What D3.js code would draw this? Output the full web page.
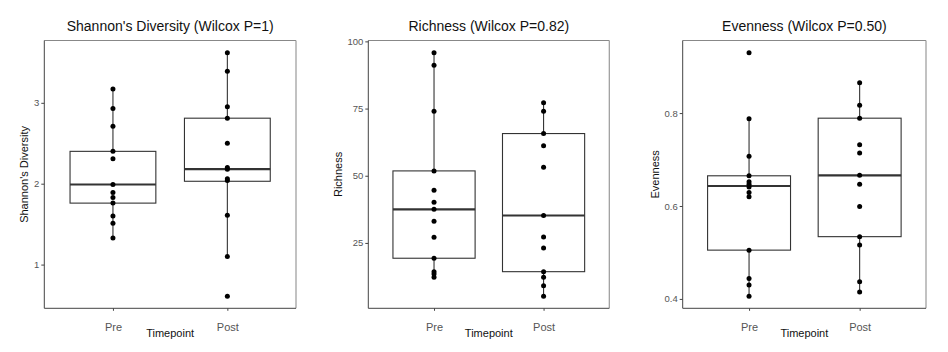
<!DOCTYPE html>
<html>
<head>
<meta charset="utf-8">
<script src="https://cdn.jsdelivr.net/npm/d3@7"></script>
<style>
  body { margin: 0; background: #fff; }
  text { font-family: "Liberation Sans", Arial, sans-serif; }
</style>
</head>
<body>
<div id="chart"></div>
<script>
// groups on the x axis
var groups = ["Pre", "Post"];

// Shannon's diversity values
var shannonPre = [3.17, 2.93, 2.71, 2.40, 2.31, 1.99, 1.89, 1.83, 1.76, 1.60, 1.51, 1.33];
var shannonPost = [3.62, 3.39, 2.95, 2.81, 2.50, 2.20, 2.18, 2.06, 2.04, 1.61, 1.10, 0.61];
// box stats: [lower whisker, q1, median, q3, upper whisker]
var shannonBox = [[1.33, 1.76, 1.99, 2.40, 3.17], [1.10, 2.03, 2.18, 2.81, 3.62]];

// richness
var richPre = [95.8, 91.1, 74.0, 51.8, 44.6, 40.1, 37.5, 33.1, 27.1, 19.3, 14.3, 13.4, 12.2];
var richPost = [77.2, 74.0, 65.7, 61.2, 53.2, 35.2, 27.2, 23.1, 14.3, 12.2, 9.1, 5.2];
var richBox = [[12.2, 19.3, 37.5, 51.8, 95.8], [5.2, 14.3, 35.2, 65.7, 77.2]];

// evenness
var evenPre = [0.930, 0.788, 0.707, 0.665, 0.652, 0.647, 0.641, 0.629, 0.620, 0.505, 0.444, 0.430, 0.406];
var evenPost = [0.865, 0.817, 0.789, 0.732, 0.714, 0.666, 0.647, 0.599, 0.534, 0.516, 0.437, 0.415];
var evenBox = [[0.406, 0.505, 0.643, 0.665, 0.788], [0.415, 0.534, 0.666, 0.789, 0.865]];

var shannonTicks = [1, 2, 3];
var richTicks = [25, 50, 75, 100];
var evenTicks = [0.4, 0.6, 0.8];

var width = 948, height = 352;

var svg = d3.select("#chart").append("svg")
    .attr("width", width)
    .attr("height", height);

var panels = [
    {title: "Shannon's Diversity (Wilcox P=1)", ylab: "Shannon's Diversity", values: [shannonPre, shannonPost],
     box: shannonBox, ticks: shannonTicks, fmt: d3.format("d"), x0: 44.3, x1: 296, labX: 24},
    {title: "Richness (Wilcox P=0.82)", ylab: "Richness", values: [richPre, richPost],
     box: richBox, ticks: richTicks, fmt: d3.format("d"), x0: 368.3, x1: 609.3, labX: 338},
    {title: "Evenness (Wilcox P=0.50)", ylab: "Evenness", values: [evenPre, evenPost],
     box: evenBox, ticks: evenTicks, fmt: d3.format(".1f"), x0: 682.7, x1: 926, labX: 655}
];

var plotTop = 40.5, plotBottom = 308.3;

panels.forEach(function(p) {
    var g = svg.append("g");

    // ggplot style 5% expansion of the data range
    var all = p.values[0].concat(p.values[1]);
    var ext = d3.extent(all);
    var pad = (ext[1] - ext[0]) * 0.05;
    var y = d3.scaleLinear().domain([ext[0] - pad, ext[1] + pad]).range([plotBottom, plotTop]);
    var x = d3.scalePoint().domain(groups).range([p.x0, p.x1]).padding(0.6);
    var boxW = x.step() * 0.75;

    // panel frame
    g.append("line").attr("x1", p.x0).attr("x2", p.x1).attr("y1", plotTop).attr("y2", plotTop)
        .attr("stroke", "#888").attr("stroke-width", 1);
    g.append("line").attr("x1", p.x1).attr("x2", p.x1).attr("y1", plotTop).attr("y2", plotBottom)
        .attr("stroke", "#999").attr("stroke-width", 1.2);

    // y axis
    var yAxis = g.append("g")
        .attr("transform", "translate(" + p.x0 + ",0)")
        .call(d3.axisLeft(y).tickValues(p.ticks).tickFormat(p.fmt).tickSize(3).tickPadding(2));
    yAxis.select(".domain").attr("d", "M0," + plotTop + "V" + plotBottom).attr("stroke", "#444");
    yAxis.selectAll(".tick line").attr("stroke", "#444");
    yAxis.selectAll(".tick text").attr("fill", "#555").style("font-size", "9.5px")
        .style("font-family", "'Liberation Sans', Arial, sans-serif");

    // x axis
    var xAxis = g.append("g")
        .attr("transform", "translate(0," + plotBottom + ")")
        .call(d3.axisBottom(x).tickSize(2.5).tickPadding(12));
    xAxis.select(".domain").attr("d", "M" + p.x0 + ",0H" + p.x1).attr("stroke", "#444");
    xAxis.selectAll(".tick line").attr("stroke", "#444");
    xAxis.selectAll(".tick text").attr("fill", "#555").style("font-size", "11px")
        .style("font-family", "'Liberation Sans', Arial, sans-serif");

    // whiskers, boxes, medians, points
    groups.forEach(function(grp, i) {
        var b = p.box[i];
        var cx = x(grp);
        g.append("line").attr("x1", cx).attr("x2", cx).attr("y1", y(b[0])).attr("y2", y(b[4]))
            .attr("stroke", "#333").attr("stroke-width", 1.1);
        g.append("rect")
            .attr("x", cx - boxW / 2).attr("width", boxW)
            .attr("y", y(b[3])).attr("height", y(b[1]) - y(b[3]))
            .attr("fill", "#fff").attr("stroke", "#333").attr("stroke-width", 1.1);
        g.append("line").attr("x1", cx - boxW / 2).attr("x2", cx + boxW / 2)
            .attr("y1", y(b[2])).attr("y2", y(b[2]))
            .attr("stroke", "#333").attr("stroke-width", 2.2);

        g.selectAll(".pt" + i)
            .data(p.values[i])
            .enter()
            .append("circle")
            .attr("cx", cx)
            .attr("cy", function(d) { return y(d); })
            .attr("r", 2.5)
            .attr("fill", "#000");
    });

    var mid = (p.x0 + p.x1) / 2;
    g.append("text")
        .attr("x", mid).attr("y", 31)
        .attr("text-anchor", "middle")
        .style("font-size", "14px")
        .attr("fill", "#111")
        .text(p.title);

    g.append("text")
        .attr("x", mid).attr("y", 337)
        .attr("text-anchor", "middle")
        .style("font-size", "11px")
        .attr("fill", "#111")
        .text("Timepoint");

    g.append("text")
        .attr("transform", "translate(" + p.labX + "," + ((plotTop + plotBottom) / 2) + ") rotate(-90)")
        .attr("text-anchor", "middle")
        .attr("dy", "0.35em")
        .style("font-size", "11px")
        .attr("fill", "#111")
        .text(p.ylab);
});
</script>
</body>
</html>
